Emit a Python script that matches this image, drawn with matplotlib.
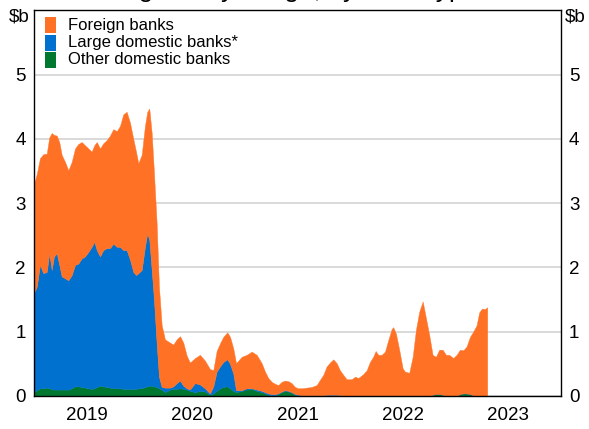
import matplotlib
matplotlib.use("Agg")
import matplotlib.pyplot as plt
from matplotlib.patches import Rectangle
import numpy as np

plt.rcParams['font.family'] = ['Liberation Sans', 'DejaVu Sans']

# decimal years
t = [2019.002, 2019.023, 2019.054, 2019.085, 2019.118, 2019.142, 2019.165, 2019.187, 2019.213, 2019.237,
     2019.260, 2019.292, 2019.323, 2019.355, 2019.387, 2019.418, 2019.450, 2019.481, 2019.513, 2019.545,
     2019.570, 2019.593, 2019.624, 2019.655, 2019.688, 2019.719, 2019.750, 2019.783, 2019.814, 2019.845,
     2019.877, 2019.909, 2019.940, 2019.966, 2019.988, 2020.020, 2020.051, 2020.073, 2020.092, 2020.115,
     2020.137, 2020.162, 2020.184, 2020.210, 2020.241, 2020.289, 2020.320, 2020.352, 2020.384, 2020.415,
     2020.447, 2020.478, 2020.526, 2020.573, 2020.621, 2020.668, 2020.700, 2020.732, 2020.764, 2020.795,
     2020.833, 2020.859, 2020.890, 2020.916, 2020.970, 2021.017, 2021.065, 2021.112, 2021.160, 2021.191,
     2021.222, 2021.255, 2021.286, 2021.317, 2021.349, 2021.381, 2021.412, 2021.444, 2021.476, 2021.507,
     2021.539, 2021.587, 2021.634, 2021.682, 2021.713, 2021.745, 2021.777, 2021.808, 2021.840, 2021.872,
     2021.903, 2021.934, 2021.967, 2022.014, 2022.046, 2022.077, 2022.124, 2022.157, 2022.188, 2022.219,
     2022.242, 2022.267, 2022.299, 2022.331, 2022.362, 2022.394, 2022.409, 2022.435, 2022.466, 2022.499,
     2022.520, 2022.561, 2022.594, 2022.625, 2022.656, 2022.689, 2022.720, 2022.751, 2022.783, 2022.815,
     2022.846, 2022.878, 2022.910, 2022.941, 2022.979, 2023.011, 2023.043, 2023.074, 2023.106, 2023.138,
     2023.169, 2023.201, 2023.226, 2023.252, 2023.280, 2023.302]

foreign = [1.71, 1.75, 1.66, 1.85, 1.84, 1.80, 2.13, 1.89, 1.83, 1.91,
           1.89, 1.81, 1.71, 1.76, 1.81, 1.86, 1.81, 1.73, 1.61, 1.48,
           1.50, 1.68, 1.68, 1.66, 1.68, 1.75, 1.78, 1.80, 1.88, 2.11,
           2.15, 2.13, 2.07, 1.92, 1.71, 1.79, 1.88, 1.89, 2.04, 2.13,
           1.97, 1.87, 1.40, 0.96, 0.75, 0.70, 0.65, 0.68, 0.69, 0.67,
           0.51, 0.42, 0.39, 0.46, 0.43, 0.38, 0.25, 0.32, 0.36, 0.39,
           0.42, 0.42, 0.39, 0.42, 0.52, 0.52, 0.57, 0.54, 0.43, 0.32,
           0.24, 0.19, 0.16, 0.13, 0.15, 0.15, 0.15, 0.14, 0.11, 0.10,
           0.11, 0.12, 0.13, 0.16, 0.24, 0.32, 0.44, 0.50, 0.55, 0.49,
           0.39, 0.32, 0.26, 0.26, 0.30, 0.28, 0.34, 0.40, 0.53, 0.61,
           0.70, 0.64, 0.64, 0.69, 0.87, 1.04, 1.07, 0.97, 0.72, 0.43,
           0.38, 0.36, 0.61, 1.03, 1.31, 1.47, 1.21, 0.95, 0.62, 0.58,
           0.69, 0.70, 0.64, 0.64, 0.59, 0.64, 0.69, 0.67, 0.73, 0.89,
           0.99, 1.10, 1.30, 1.36, 1.35, 1.38]

large_domestic = [1.55, 1.61, 1.92, 1.79, 1.80, 2.10, 1.85, 2.07, 2.12, 1.94,
                  1.76, 1.73, 1.70, 1.76, 1.89, 1.91, 2.00, 2.04, 2.12, 2.21,
                  2.28, 2.13, 2.01, 2.12, 2.16, 2.17, 2.25, 2.20, 2.20, 2.16,
                  2.16, 2.01, 1.82, 1.77, 1.79, 1.84, 2.18, 2.38, 2.27, 1.80,
                  1.34, 0.68, 0.18, 0.04, 0.07, 0.03, 0.04, 0.09, 0.12, 0.05,
                  0.02, 0.02, 0.14, 0.10, 0.05, 0.02, 0.11, 0.30, 0.34, 0.39,
                  0.42, 0.38, 0.27, 0.03, 0.01, 0.02, 0.01, 0.02, 0.02, 0.02,
                  0.02, 0.02, 0.02, 0.01, 0.01, 0.01, 0.01, 0.01, 0.01, 0.01,
                  0.01, 0.01, 0.01, 0.01, 0.01, 0.01, 0.02, 0.02, 0.02, 0.02,
                  0.01, 0.01, 0.00, 0.00, 0.00, 0.00, 0.00, 0.00, 0.00, 0.00,
                  0.00, 0.00, 0.00, 0.00, 0.00, 0.00, 0.00, 0.00, 0.00, 0.00,
                  0.00, 0.00, 0.00, 0.00, 0.00, 0.00, 0.00, 0.00, 0.00, 0.00,
                  0.00, 0.00, 0.00, 0.00, 0.00, 0.00, 0.00, 0.00, 0.00, 0.00,
                  0.00, 0.00, 0.00, 0.00, 0.00, 0.00]

other_domestic = [0.07, 0.09, 0.12, 0.12, 0.13, 0.12, 0.11, 0.10, 0.10, 0.10,
                  0.10, 0.10, 0.10, 0.12, 0.15, 0.15, 0.14, 0.13, 0.12, 0.11,
                  0.12, 0.14, 0.16, 0.15, 0.14, 0.13, 0.12, 0.12, 0.12, 0.11,
                  0.11, 0.11, 0.11, 0.11, 0.12, 0.12, 0.14, 0.15, 0.16, 0.16,
                  0.15, 0.14, 0.12, 0.10, 0.06, 0.10, 0.11, 0.11, 0.12, 0.11,
                  0.10, 0.08, 0.06, 0.08, 0.07, 0.02, 0.04, 0.08, 0.12, 0.14,
                  0.15, 0.12, 0.08, 0.06, 0.08, 0.10, 0.11, 0.08, 0.06, 0.04,
                  0.02, 0.01, 0.01, 0.03, 0.06, 0.08, 0.07, 0.05, 0.02, 0.01,
                  0.00, 0.00, 0.00, 0.00, 0.00, 0.00, 0.00, 0.00, 0.00, 0.00,
                  0.00, 0.00, 0.00, 0.00, 0.00, 0.00, 0.00, 0.00, 0.00, 0.00,
                  0.00, 0.00, 0.00, 0.00, 0.00, 0.00, 0.00, 0.00, 0.00, 0.00,
                  0.00, 0.00, 0.00, 0.00, 0.00, 0.00, 0.00, 0.00, 0.02, 0.03,
                  0.03, 0.02, 0.00, 0.00, 0.00, 0.00, 0.03, 0.04, 0.04, 0.03,
                  0.01, 0.00, 0.00, 0.00, 0.00, 0.00]

years = [2019, 2020, 2021, 2022, 2023]
series_labels = ["Foreign banks", "Large domestic banks*", "Other domestic banks"]
yticks = [0, 1, 2, 3, 4, 5]
title = "Standing facility usage, by bank type"

c_orange = "#FF7226"
c_blue = "#0071CE"
c_green = "#00782F"

W, H = 589, 429
fig = plt.figure(figsize=(W / 100, H / 100), dpi=100)
ax = fig.add_axes([34.3 / W, 1 - 396 / H, (560.7 - 34.3) / W, (396 - 10.2) / H])

polys = ax.stackplot(t, other_domestic, large_domestic, foreign,
                     colors=[c_green, c_blue, c_orange], linewidth=0)
for p in polys:
    p.set_edgecolor('face')
    p.set_linewidth(0.3)

ax.set_xlim(years[0], years[-1] + 1)
ax.set_ylim(0, 6)

# x ticks: marks at year boundaries, labels centred on years
ax.set_xticks(years[1:])
ax.set_xticklabels([])
ax.set_xticks([y + 0.5 for y in years], minor=True)
ax.set_xticklabels([str(y) for y in years], minor=True)
ax.tick_params(axis='x', which='major', direction='in', length=5, width=1, color='black')
ax.tick_params(axis='x', which='minor', length=0, pad=8, labelsize=13.5)

ax.set_yticks(yticks)
ax.set_yticklabels([str(v) for v in yticks])
ax.tick_params(axis='y', length=0, labelsize=13.5, labelright=True, pad=6)

ax.yaxis.grid(True, color='#CFCFCF', linewidth=1.1)
ax.set_axisbelow(True)
for s in ax.spines.values():
    s.set_linewidth(1.0)
    s.set_color('black')

# unit labels
fig.text(30 / W, 1 - 16.7 / H, "$b", ha='right', va='center', fontsize=13.5)
fig.text(565 / W, 1 - 16.7 / H, "$b", ha='left', va='center', fontsize=13.5)

# legend (manual)
colors = [c_orange, c_blue, c_green]
centers = [25.3, 42.5, 59.7]
for lab, col, cy in zip(series_labels, colors, centers):
    fig.patches.append(Rectangle((45 / W, 1 - (cy + 8) / H), 11 / W, 16 / H,
                                 transform=fig.transFigure, facecolor=col, edgecolor='none'))
    fig.text(68 / W, 1 - cy / H, lab, ha='left', va='center', fontsize=12)

# clipped title at very top
fig.text(49 / W, 1 + 2.5 / H, title, ha='left', va='baseline', fontsize=19)

fig.savefig("out.png", dpi=100)
